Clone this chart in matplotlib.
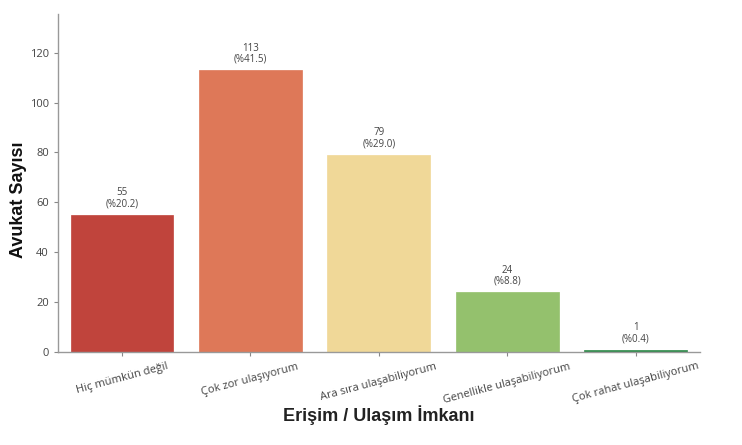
import matplotlib
matplotlib.use("Agg")
import matplotlib.pyplot as plt

categories = ["Hiç mümkün değil", "Çok zor ulaşıyorum", "Ara sıra ulaşabiliyorum",
              "Genellikle ulaşabiliyorum", "Çok rahat ulaşabiliyorum"]
counts = [55, 113, 79, 24, 1]
percents = [20.2, 41.5, 29.0, 8.8, 0.4]
colors = ["#C0443C", "#DE7858", "#F0D898", "#94C16D", "#2E8B4A"]

plt.rcParams["font.family"] = ["Open Sans", "DejaVu Sans"]

fig = plt.figure(figsize=(7.42, 4.45), dpi=100)
ax = fig.add_axes([0.078, 0.209, 0.865, 0.76])

x = range(len(categories))
ax.bar(x, counts, width=0.8, color=colors, edgecolor=colors, linewidth=0.5)

for i, (c, p) in enumerate(zip(counts, percents)):
    ax.text(i, c + 2.2, "%d\n(%%%.1f)" % (c, p), ha="center", va="bottom",
            fontsize=7, color="#444444", linespacing=1.0)

ax.set_xlim(-0.5, 4.5)
ax.set_ylim(0, 135.6)
ax.set_yticks([0, 20, 40, 60, 80, 100, 120])
ax.set_xticks(list(x))
ax.set_xticklabels(categories, rotation=15, ha="center", fontsize=8)
ax.tick_params(axis="y", labelsize=8)
ax.tick_params(colors="#888888", length=3, width=0.8)
for t in ax.get_xticklabels() + ax.get_yticklabels():
    t.set_color("#444444")

for s in ["top", "right"]:
    ax.spines[s].set_visible(False)
for s in ["left", "bottom"]:
    ax.spines[s].set_color("#999999")
    ax.spines[s].set_linewidth(1.0)

ax.set_ylabel("Avukat Sayısı", family="Liberation Sans", fontsize=13,
              fontweight="bold", color="#111111")
ax.yaxis.set_label_coords(-0.048, 0.45)
ax.set_xlabel("Erişim / Ulaşım İmkanı", family="Liberation Sans", fontsize=13,
              fontweight="bold", color="#222222", labelpad=0)

fig.savefig("out.png", dpi=100)
